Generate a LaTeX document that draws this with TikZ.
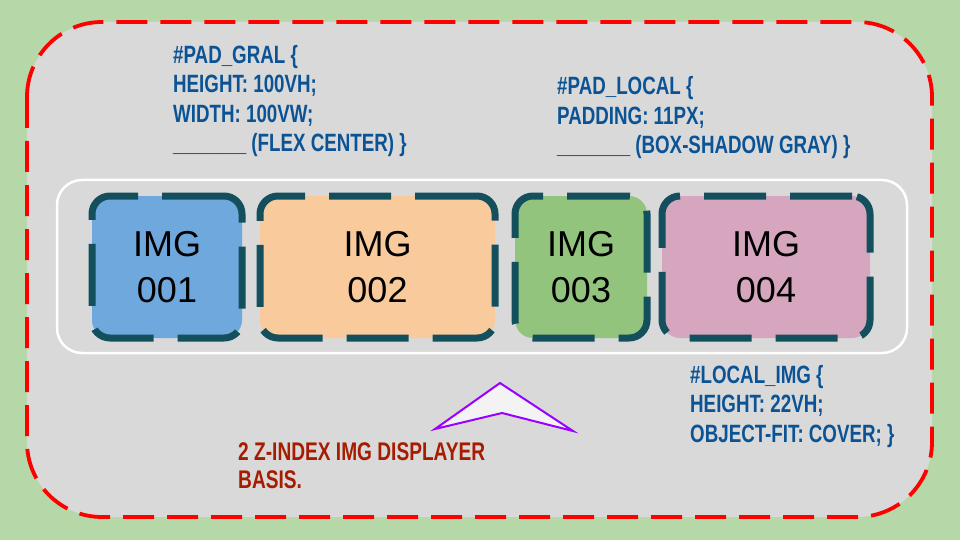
\documentclass[tikz,border=0pt]{standalone}
\usepackage{fontspec}
\setmainfont{Liberation Sans}
\newfontfamily\oswfont[FakeStretch=0.75]{Liberation Sans}
\definecolor{bggreen}{HTML}{B6D7A8}
\definecolor{panelgray}{HTML}{D9D9D9}
\definecolor{dashred}{HTML}{FF0000}
\definecolor{tealline}{HTML}{134F5C}
\definecolor{imgblue}{HTML}{6FA8DC}
\definecolor{imgorange}{HTML}{F9CB9C}
\definecolor{imggreen}{HTML}{93C47D}
\definecolor{imgpink}{HTML}{D5A6BD}
\definecolor{codeblue}{HTML}{0B5394}
\definecolor{notered}{HTML}{A61C00}
\definecolor{tripurple}{HTML}{9900FF}
\definecolor{trifill}{HTML}{F3F3F3}
\begin{document}
\begin{tikzpicture}[x=1pt,y=-1pt,
  imgbox/.style={draw=tealline, line width=7pt, dash pattern=on 62pt off 24pt,
    rounded corners=18pt, minimum height=142pt, inner sep=0pt, align=center,
    font=\fontsize{36}{46}\selectfont},
  codetext/.style={anchor=base west, align=left, inner sep=0pt, text=codeblue,
    font=\oswfont\bfseries\fontsize{25}{29.5}\selectfont},
  notetext/.style={anchor=base west, align=left, inner sep=0pt, text=notered,
    font=\oswfont\bfseries\fontsize{25.5}{27.5}\selectfont}]
\useasboundingbox (0,0) rectangle (960,540);
\fill[bggreen] (0,0) rectangle (960,540);
\draw[dashred, fill=panelgray, line width=3.8pt, dash pattern=on 31pt off 13pt,
  rounded corners=75pt] (27,22) rectangle (932,517);
\draw[white, line width=2.5pt, rounded corners=25pt] (57,180) rectangle (907,353);
\node[imgbox, fill=imgblue, minimum width=150pt] (img1) at (167,267) {IMG\\001};
\node[imgbox, fill=imgorange, minimum width=235pt] (img2) at (377.5,267) {IMG\\002};
\node[imgbox, fill=imggreen, minimum width=132pt] (img3) at (581,267) {IMG\\003};
\node[imgbox, fill=imgpink, minimum width=208pt] (img4) at (766,267) {IMG\\004};
\node[codetext] (gral) at (173,152) {\#PAD\_GRAL \{\\HEIGHT: 100VH;\\WIDTH: 100VW;\\\_\_\_\_\_\_\_ (FLEX CENTER) \}};
\node[codetext] (local) at (557,154) {\#PAD\_LOCAL \{\\PADDING: 11PX;\\\_\_\_\_\_\_\_ (BOX-SHADOW GRAY) \}};
\node[codetext] (limg) at (690,442) {\#LOCAL\_IMG \{\\HEIGHT: 22VH;\\OBJECT-FIT: COVER; \}};
\node[notetext] (note) at (238,488) {2 Z-INDEX IMG DISPLAYER\\BASIS.};
\draw[tripurple, fill=trifill, line width=2pt, line join=miter]
  (435,429) -- (500,383) -- (573,431) -- (502,413) -- cycle;
\end{tikzpicture}
\end{document}
